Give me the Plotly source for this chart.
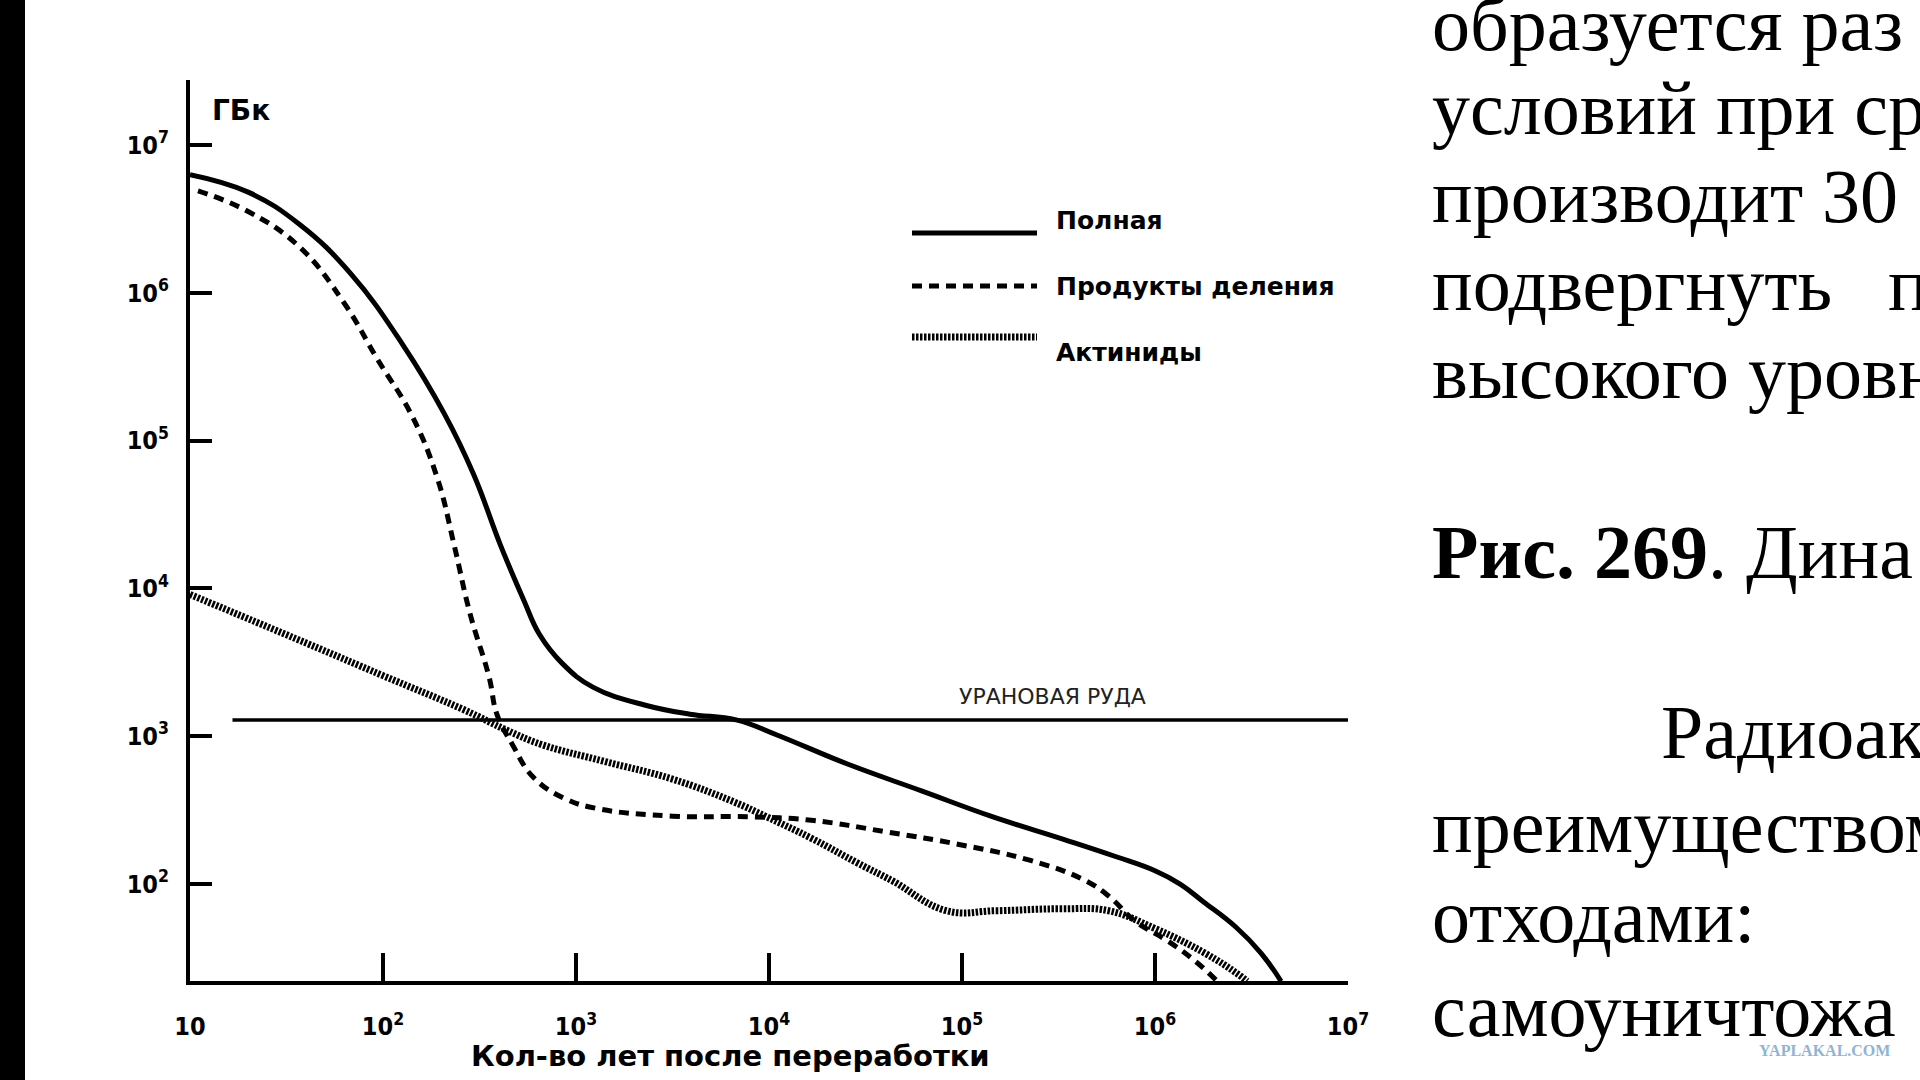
import plotly.graph_objects as go

# activity (GBq) vs years after reprocessing
total_years = [10, 20, 37, 68, 126, 209, 295, 407, 537, 646, 851, 1230, 2290, 3890, 6760,
               1.1e4, 2.57e4, 6.17e4, 1.41e5, 3.39e5, 6.3e5, 1.0e6, 1.35e6, 1.78e6, 2.63e6,
               3.55e6, 4.5e6]
total_gbq = [6.3e6, 4.8e6, 2.9e6, 1.35e6, 4.5e5, 1.5e5, 5.9e4, 1.95e4, 8300, 4900, 3100, 2140,
             1620, 1410, 1290, 1020, 646, 427, 288, 200, 153, 123, 100, 76, 51, 34, 22]

fission_years = [11, 20, 37, 63, 93, 141, 191, 234, 282, 355, 389, 468, 603, 871, 1290, 3160,
                 7760, 1.66e4, 4.17e4, 9.5e4, 2.24e5, 4.27e5, 5.75e5, 7.9e5, 1.17e6, 1.62e6, 2.1e6]
fission_gbq = [4.9e6, 3.55e6, 2.04e6, 8.5e5, 3.6e5, 1.48e5, 5.6e4, 1.95e4, 6800, 2500, 1410, 880,
               525, 380, 324, 288, 285, 270, 224, 186, 145, 107, 83, 56, 41, 30, 22]

actinide_years = [10, 40, 100, 263, 437, 661, 1400, 3160, 6600, 9550, 1.66e4, 2.9e4, 4.37e4,
                  8.3e4, 1.51e5, 3.3e5, 5.75e5, 1.0e6, 1.82e6, 2.7e6, 3.0e6]
actinide_gbq = [9100, 4270, 2570, 1510, 1100, 880, 676, 513, 359, 288, 204, 138, 105, 66, 66,
                68, 66, 50, 34, 24.5, 22]

ore_years = [16.6, 1e7]
ore_gbq = [1290, 1290]

x_tick_vals = [10, 1e2, 1e3, 1e4, 1e5, 1e6, 1e7]
x_tick_text = ["10", "10<sup>2</sup>", "10<sup>3</sup>", "10<sup>4</sup>", "10<sup>5</sup>",
               "10<sup>6</sup>", "10<sup>7</sup>"]
y_tick_vals = [1e2, 1e3, 1e4, 1e5, 1e6, 1e7]
y_tick_text = ["10<sup>2</sup>", "10<sup>3</sup>", "10<sup>4</sup>", "10<sup>5</sup>",
               "10<sup>6</sup>", "10<sup>7</sup>"]

legend_names = ["Полная", "Продукты деления", "Актиниды"]

page_lines = [
    ("образуется раз", 1430, 24),
    ("условий при ср", 1430, 108),
    ("производит 30", 1430, 196),
    ("подвергнуть", 1430, 284),
    ("п", 1886, 284),
    ("высокого уровн", 1430, 372),
    ("<b>Рис. 269</b>. Дина", 1430, 552),
    ("Радиоак", 1659, 732),
    ("преимуществом", 1430, 826),
    ("отходами:", 1430, 916),
    ("самоуничтожа", 1430, 1010),
]

# plot area in page pixels
PL, PR, PT, PB = 190, 1348, 80, 981


def px(x):
    return (x - PL) / (PR - PL)


def py(y):
    return (PB - y) / (PB - PT)


SOLID = dict(color="black", width=5)
DASHED = dict(color="black", width=5, dash="10px,7px")
HATCHED = dict(color="black", width=7, dash="2.5px,1.5px")
SANS = "DejaVu Sans, Noto Sans, sans-serif"
NARROW = "DejaVu Sans Condensed, Liberation Sans Narrow, DejaVu Sans, sans-serif"

fig = go.Figure()
fig.add_trace(go.Scatter(x=ore_years, y=ore_gbq, mode="lines",
                         line=dict(color="black", width=3.5), hoverinfo="skip"))
fig.add_trace(go.Scatter(x=actinide_years, y=actinide_gbq, mode="lines", name=legend_names[2],
                         line=dict(HATCHED, shape="spline", smoothing=1.2)))
fig.add_trace(go.Scatter(x=fission_years, y=fission_gbq, mode="lines", name=legend_names[1],
                         line=dict(DASHED, shape="spline", smoothing=1.2)))
fig.add_trace(go.Scatter(x=total_years, y=total_gbq, mode="lines", name=legend_names[0],
                         line=dict(SOLID, shape="spline", smoothing=1.2)))

fig.update_xaxes(type="log", range=[1, 7], showline=True, linecolor="black", linewidth=4,
                 ticks="inside", ticklen=28, tickwidth=4, tickcolor="black",
                 tickvals=x_tick_vals, ticktext=x_tick_text, showgrid=False, zeroline=False,
                 tickfont=dict(family=NARROW, size=25, color="black", weight="bold"),
                 ticklabelstandoff=20)
fig.update_yaxes(type="log", range=[1.344, 7.44], showline=True, linecolor="black", linewidth=4,
                 ticks="inside", ticklen=22, tickwidth=4, tickcolor="black",
                 tickvals=y_tick_vals, ticktext=y_tick_text, showgrid=False, zeroline=False,
                 tickfont=dict(family=NARROW, size=25, color="black", weight="bold"),
                 ticklabelstandoff=12)

shapes = [
    # black strip at the left edge of the scan
    dict(type="rect", xref="paper", yref="paper", x0=px(0), x1=px(25), y0=py(1080), y1=py(0),
         fillcolor="black", line=dict(width=0)),
]
for style, y in [(SOLID, 233), (DASHED, 286), (HATCHED, 337)]:
    shapes.append(dict(type="line", xref="paper", yref="paper", x0=px(912), x1=px(1037),
                       y0=py(y), y1=py(y), line=style))

annotations = [
    dict(text="<b>ГБк</b>", x=px(210), y=py(110), xanchor="left", yanchor="middle",
         font=dict(family=SANS, size=28, color="black")),
    dict(text="<b>Кол-во лет после переработки</b>", x=px(730), y=py(1056), xanchor="center",
         yanchor="middle", font=dict(family=SANS, size=29, color="black")),
    dict(text="УРАНОВАЯ РУДА", x=px(1052), y=py(696), xanchor="center", yanchor="middle",
         font=dict(family=SANS, size=22, color="#222222")),
    dict(text="YAPLAKAL.COM", x=px(1824), y=py(1050), xanchor="center", yanchor="middle",
         font=dict(family="Liberation Serif, serif", size=16, color="#8eb4d6", weight="bold")),
]
for name, y in zip(legend_names, [220, 286, 352]):
    annotations.append(dict(text=f"<b>{name}</b>", x=px(1054), y=py(y), xanchor="left",
                            yanchor="middle", font=dict(family=SANS, size=25, color="black")))
for text, x, y in page_lines:
    annotations.append(dict(text=text, x=px(x), y=py(y), xanchor="left", yanchor="middle",
                            font=dict(family="Liberation Serif, Times New Roman, serif",
                                      size=76, color="black")))
for a in annotations:
    a.update(xref="paper", yref="paper", showarrow=False)

fig.update_layout(width=1920, height=1080, margin=dict(l=PL, r=1920 - PR, t=PT, b=1080 - PB),
                  paper_bgcolor="white", plot_bgcolor="white", showlegend=False,
                  shapes=shapes, annotations=annotations)

# drop the default page margin so the 1920x1080 figure fills the window exactly
fig.write_html("out.html", config={"displayModeBar": False},
               post_script="document.body.style.margin='0';")
